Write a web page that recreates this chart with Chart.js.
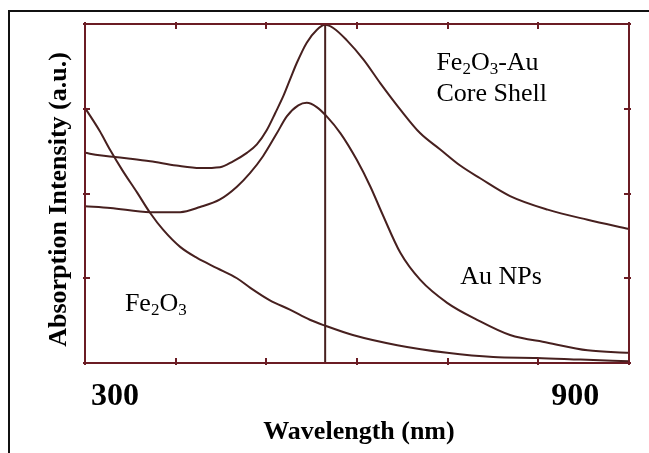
<!DOCTYPE html>
<html>
<head>
<meta charset="utf-8">
<script src="https://cdn.jsdelivr.net/npm/chart.js@4/dist/chart.umd.min.js"></script>
<style>
  html, body { margin: 0; padding: 0; background: #ffffff; }
  #wrap { position: relative; width: 649px; height: 453px; }
</style>
</head>
<body>
<div id="wrap"><canvas id="c" width="649" height="453"></canvas></div>
<script>
// ---- Data (wavelength in nm, absorption in a.u.) ----
const coreShellX = [261, 280, 300, 320, 346, 380, 411, 437, 454, 472, 485, 498, 509, 520, 528, 537, 550, 563, 574, 585, 602, 624, 646, 672, 698, 724, 750, 776, 815, 864, 916, 970];
const coreShellY = [2.48, 2.45, 2.43, 2.41, 2.38, 2.33, 2.30, 2.31, 2.38, 2.48, 2.58, 2.75, 2.95, 3.16, 3.34, 3.54, 3.78, 3.93, 3.99, 3.95, 3.81, 3.58, 3.30, 2.99, 2.71, 2.52, 2.33, 2.18, 1.97, 1.81, 1.69, 1.58];

const auNpX = [261, 294, 346, 385, 411, 437, 459, 476, 493, 511, 524, 539, 550, 563, 576, 594, 615, 633, 648, 672, 698, 733, 772, 815, 864, 916, 970];
const auNpY = [1.85, 1.83, 1.78, 1.78, 1.84, 1.93, 2.08, 2.24, 2.44, 2.71, 2.91, 3.04, 3.07, 3.02, 2.91, 2.71, 2.40, 2.08, 1.77, 1.30, 0.98, 0.71, 0.51, 0.33, 0.24, 0.15, 0.12];

const fe2o3X = [261, 280, 294, 310, 329, 346, 363, 385, 407, 433, 459, 476, 502, 528, 554, 574, 610, 668, 733, 793, 850, 907, 970];
const fe2o3Y = [3.01, 2.74, 2.51, 2.27, 2.01, 1.77, 1.57, 1.37, 1.24, 1.12, 1.00, 0.89, 0.74, 0.63, 0.51, 0.44, 0.33, 0.21, 0.12, 0.07, 0.06, 0.04, 0.02];

const peakLineX = [574, 574];
const peakLineY = [0, 4];

const xTickLabels = [300, 900];
const xTickMarks = [261, 379, 497, 616, 734, 852, 970];
const yTickMarks = [0, 1, 2, 3, 4];

const xTitle = 'Wavelength (nm)';
const yTitle = 'Absorption Intensity (a.u.)';

const toPoints = (xs, ys) => xs.map((x, i) => ({ x: x, y: ys[i] }));

const CURVE = '#47201f';
const FRAME = '#6b1c24';

// annotation segments: [text, isSubscript]
const annotations = [
  { x: 719, y: 3.457, parts: [['Fe', false], ['2', true], ['O', false], ['3', true], ['-Au', false]] },
  { x: 719, y: 3.09, parts: [['Core Shell', false]] },
  { x: 750, y: 0.93, parts: [['Au NPs', false]] },
  { x: 313, y: 0.613, parts: [['Fe', false], ['2', true], ['O', false], ['3', true]] }
];

const framePlugin = {
  id: 'framePlugin',
  afterDraw(chart) {
    const ctx = chart.ctx;
    const xs = chart.scales.x, ys = chart.scales.y;
    const a = chart.chartArea;
    ctx.save();
    // frame
    ctx.strokeStyle = FRAME;
    ctx.lineWidth = 2;
    ctx.strokeRect(a.left, a.top, a.right - a.left, a.bottom - a.top);
    // tick marks (inward)
    ctx.lineWidth = 2;
    ctx.beginPath();
    xTickMarks.forEach(v => {
      const px = Math.round(xs.getPixelForValue(v));
      ctx.moveTo(px, a.top - 2); ctx.lineTo(px, a.top + 5);
      ctx.moveTo(px, a.bottom + 2); ctx.lineTo(px, a.bottom - 5);
    });
    yTickMarks.forEach(v => {
      const py = Math.round(ys.getPixelForValue(v));
      ctx.moveTo(a.left - 2, py); ctx.lineTo(a.left + 5, py);
      ctx.moveTo(a.right + 2, py); ctx.lineTo(a.right - 5, py);
    });
    ctx.stroke();

    // tick labels
    ctx.fillStyle = '#000';
    ctx.font = 'bold 32px "Liberation Serif", "Times New Roman", serif';
    ctx.textAlign = 'center';
    ctx.textBaseline = 'alphabetic';
    xTickLabels.forEach(v => {
      ctx.fillText(String(v), xs.getPixelForValue(v), a.bottom + 42);
    });

    // axis titles
    ctx.font = 'bold 26px "Liberation Serif", "Times New Roman", serif';
    ctx.fillText(xTitle, (a.left + a.right) / 2 + 2, a.bottom + 76);
    ctx.save();
    ctx.translate(66, (a.top + a.bottom) / 2 + 6);
    ctx.rotate(-Math.PI / 2);
    ctx.textAlign = 'center';
    ctx.fillText(yTitle, 0, 0);
    ctx.restore();

    // annotations
    ctx.textAlign = 'left';
    annotations.forEach(an => {
      let px = xs.getPixelForValue(an.x);
      const py = ys.getPixelForValue(an.y);
      an.parts.forEach(([t, sub]) => {
        ctx.font = (sub ? '17px' : '26px') + ' "Liberation Serif", "Times New Roman", serif';
        ctx.fillText(t, px, py + (sub ? 4 : 0));
        px += ctx.measureText(t).width;
      });
    });

    // outer border (top and left)
    ctx.strokeStyle = '#111';
    ctx.lineWidth = 2;
    ctx.beginPath();
    ctx.moveTo(9, 453); ctx.lineTo(9, 11); ctx.lineTo(649, 11);
    ctx.stroke();
    ctx.restore();
  }
};

const lineDs = (label, xs, ys, extra) => Object.assign({
  label: label,
  data: toPoints(xs, ys),
  showLine: true,
  borderColor: CURVE,
  borderWidth: 2,
  pointRadius: 0,
  fill: false,
  cubicInterpolationMode: 'monotone',
  clip: false
}, extra || {});

new Chart(document.getElementById('c'), {
  type: 'scatter',
  data: {
    datasets: [
      lineDs('Fe2O3-Au Core Shell', coreShellX, coreShellY),
      lineDs('Au NPs', auNpX, auNpY),
      lineDs('Fe2O3', fe2o3X, fe2o3Y),
      lineDs('peak', peakLineX, peakLineY, { cubicInterpolationMode: 'default', tension: 0 })
    ]
  },
  options: {
    responsive: false,
    animation: false,
    layout: { padding: { left: 85, top: 24, right: 20, bottom: 90 } },
    plugins: { legend: { display: false }, tooltip: { enabled: false } },
    scales: {
      x: { type: 'linear', min: 261, max: 970, display: false },
      y: { type: 'linear', min: 0, max: 4, display: false }
    }
  },
  plugins: [framePlugin]
});
</script>
</body>
</html>
